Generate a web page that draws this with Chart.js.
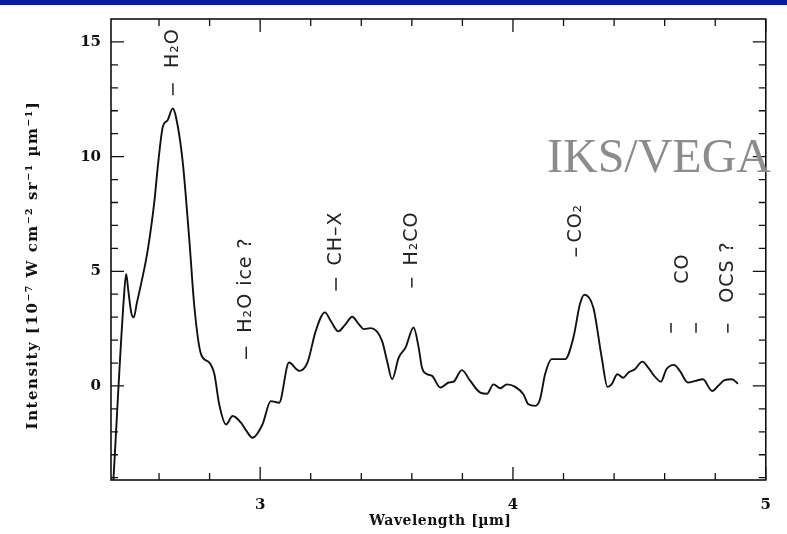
<!DOCTYPE html>
<html><head><meta charset="utf-8">
<script src="https://cdn.jsdelivr.net/npm/chart.js@4.4.0/dist/chart.umd.min.js"></script>
<style>html,body{margin:0;padding:0;background:#fff;}#wrap{width:787px;height:534px;position:relative;}</style>
</head><body><div id="wrap"><canvas id="c" width="787" height="534"></canvas></div>
<script>
const wavelength = [2.418,2.461,2.470,2.478,2.490,2.500,2.512,2.529,2.555,2.582,2.595,2.615,2.634,2.654,2.667,2.693,2.720,2.740,2.766,2.799,2.819,2.838,2.865,2.891,2.924,2.945,2.970,3.009,3.042,3.075,3.114,3.154,3.187,3.220,3.256,3.279,3.309,3.338,3.364,3.390,3.410,3.437,3.482,3.502,3.522,3.548,3.575,3.607,3.627,3.640,3.660,3.680,3.713,3.746,3.765,3.798,3.831,3.871,3.897,3.923,3.950,3.976,4.009,4.041,4.061,4.088,4.107,4.127,4.153,4.206,4.239,4.265,4.282,4.318,4.351,4.374,4.390,4.413,4.436,4.456,4.482,4.512,4.535,4.554,4.585,4.607,4.637,4.660,4.692,4.721,4.751,4.788,4.811,4.837,4.866,4.890];
const intensity = [-4.4,3.86,4.88,4.2,3.2,2.99,3.6,4.45,5.9,8.09,9.55,11.3,11.59,12.1,11.73,9.84,6.34,3.42,1.39,1.02,0.51,-0.80,-1.68,-1.31,-1.60,-1.95,-2.26,-1.68,-0.66,-0.73,1.02,0.66,1.02,2.40,3.21,2.84,2.38,2.70,3.02,2.70,2.48,2.52,1.97,1.09,0.29,1.24,1.67,2.55,1.67,0.80,0.51,0.44,-0.07,0.15,0.19,0.69,0.22,-0.29,-0.34,0.07,-0.10,0.07,-0.04,-0.36,-0.80,-0.87,-0.58,0.51,1.17,1.17,2.11,3.57,3.98,3.41,1.24,-0.04,0.07,0.51,0.36,0.58,0.73,1.06,0.80,0.51,0.19,0.73,0.92,0.66,0.15,0.22,0.29,-0.22,0.0,0.25,0.29,0.10];
const xTickLabels = [3,4,5];
const yTickLabels = [0,5,10,15];
const featureNames = ['H\u2082O','H\u2082O ice ?','CH\u2013X','H\u2082CO','CO\u2082','CO','OCS ?'];
const featureLabelX = [2.655,2.945,3.30,3.60,4.25,4.673,4.85];
const featureLabelY = [13.86,2.32,5.25,5.25,6.25,4.46,3.63];
const markX  = [2.655,2.945,3.30,3.60,4.25,4.625,4.724,4.85];
const markY0 = [12.68,1.18,4.15,4.29,5.64,2.32,2.32,2.32];
const markY1 = [13.2,1.71,4.72,4.72,6.03,2.75,2.75,2.71];

const points = wavelength.map((w,i)=>({x:w,y:intensity[i]}));

const decor = {
  id:'decor',
  beforeDraw(chart){
    const c=chart.ctx;
    c.save();
    c.fillStyle='#fff';c.fillRect(0,0,chart.width,chart.height);
    c.restore();
  },
  afterDatasetsDraw(chart){
    const c=chart.ctx, a=chart.chartArea, xs=chart.scales.x, ys=chart.scales.y;
    c.save();
    // frame
    c.strokeStyle='#111';c.lineWidth=1.6;
    c.strokeRect(a.left,a.top,a.right-a.left,a.bottom-a.top);
    // inside ticks
    c.lineWidth=1.3;
    c.beginPath();
    xs.ticks.forEach(t=>{
      const px=xs.getPixelForValue(t.value);
      const L = xTickLabels.includes(t.value)?13:7;
      c.moveTo(px,a.bottom);c.lineTo(px,a.bottom-L);
      c.moveTo(px,a.top);c.lineTo(px,a.top+L);
    });
    ys.ticks.forEach(t=>{
      const py=ys.getPixelForValue(t.value);
      const L = yTickLabels.includes(t.value)?13:7;
      c.moveTo(a.left,py);c.lineTo(a.left+L,py);
      c.moveTo(a.right,py);c.lineTo(a.right-L,py);
    });
    c.stroke();
    // feature marks
    c.strokeStyle='#222';c.lineWidth=1.5;
    c.beginPath();
    markX.forEach((m,i)=>{
      const px=xs.getPixelForValue(m);
      c.moveTo(px,ys.getPixelForValue(markY0[i]));
      c.lineTo(px,ys.getPixelForValue(markY1[i]));
    });
    c.stroke();
    // feature labels
    c.fillStyle='#222';
    c.font='19px "DejaVu Sans"';
    c.letterSpacing='1px';
    c.textAlign='left';c.textBaseline='middle';
    featureNames.forEach((n,i)=>{
      c.save();
      c.translate(xs.getPixelForValue(featureLabelX[i]),ys.getPixelForValue(featureLabelY[i]));
      c.rotate(-Math.PI/2);
      c.fillText(n,0,0);
      c.restore();
    });
    // axis titles
    c.fillStyle='#111';
    c.font='bold 14px "DejaVu Serif"';
    c.letterSpacing='0.5px';
    c.textAlign='center';c.textBaseline='middle';
    c.fillText('Wavelength [\u00b5m]',(a.left+a.right)/2+2,521);
    c.font='bold 15px "DejaVu Serif"';
    c.letterSpacing='1.5px';
    c.save();
    c.translate(33,265);c.rotate(-Math.PI/2);
    c.fillText('Intensity [10\u207b\u2077 W cm\u207b\u00b2 sr\u207b\u00b9 \u00b5m\u207b\u00b9]',0,0);
    c.restore();
    c.letterSpacing='0px';
    // watermark
    c.fillStyle='#8c8c8c';
    c.font='48px "Liberation Serif"';
    c.textAlign='left';c.textBaseline='alphabetic';
    c.fillText('IKS/VEGA',547,172);
    // top blue bar
    c.fillStyle='#0a1c9e';
    c.fillRect(0,0,chart.width,5);
    c.restore();
  }
};

new Chart(document.getElementById('c'),{
  type:'line',
  data:{datasets:[{data:points,borderColor:'#111',borderWidth:1.9,pointRadius:0,cubicInterpolationMode:'monotone',fill:false}]},
  options:{
    responsive:false,animation:false,devicePixelRatio:1,
    layout:{padding:{top:19,right:20,left:0,bottom:0}},
    plugins:{legend:{display:false},tooltip:{enabled:false}},
    scales:{
      x:{type:'linear',min:2.41,max:5,
        grid:{display:false,drawTicks:false},border:{display:false},
        afterBuildTicks(s){const t=[];for(let k=13;k<=25;k++)t.push({value:k/5});s.ticks=t;},
        afterFit(s){s.height=54;},
        ticks:{autoSkip:false,maxRotation:0,padding:16,color:'#111',font:{family:'DejaVu Serif',weight:'bold',size:15},
          callback:v=>xTickLabels.includes(v)?String(v):''}
      },
      y:{type:'linear',min:-4.1,max:16,
        grid:{display:false,drawTicks:false},border:{display:false},
        afterBuildTicks(s){const t=[];for(let k=-4;k<=15;k++)t.push({value:k});s.ticks=t;},
        afterFit(s){s.width=111;},
        ticks:{autoSkip:false,padding:10,color:'#111',font:{family:'DejaVu Serif',weight:'bold',size:15},
          callback:v=>yTickLabels.includes(v)?String(v):''}
      }
    }
  },
  plugins:[decor]
});
</script></body></html>
